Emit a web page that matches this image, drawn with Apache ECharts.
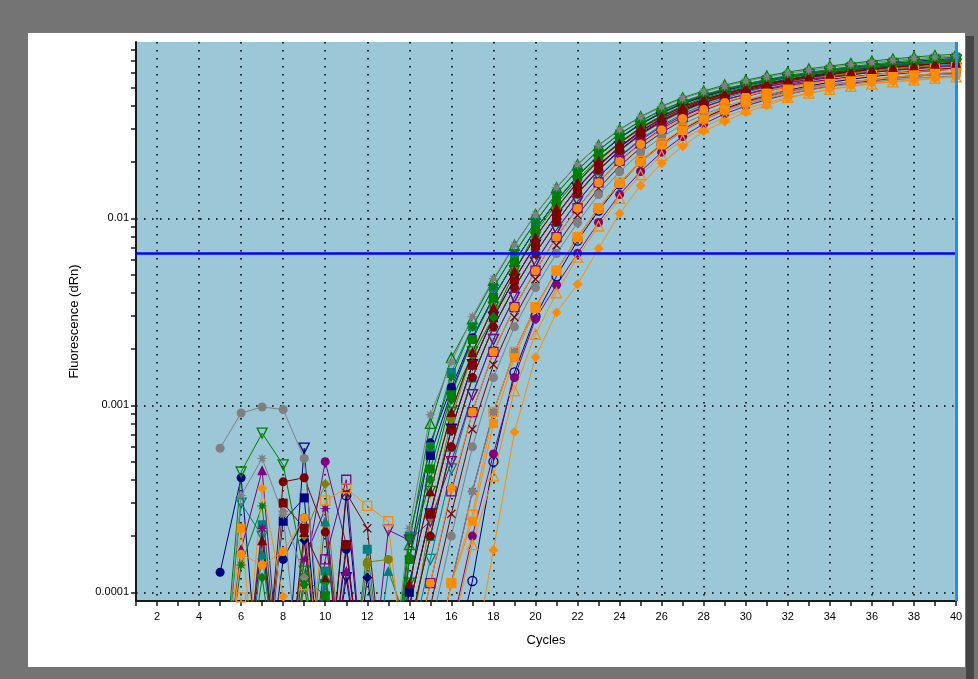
<!DOCTYPE html>
<html>
<head>
<meta charset="utf-8">
<script src="https://cdn.jsdelivr.net/npm/echarts@6/dist/echarts.min.js"></script>
<style>
  html, body { margin: 0; padding: 0; background: #ffffff; }
  #chart { width: 978px; height: 679px; }
</style>
</head>
<body>
<div id="chart"></div>
<script>
// Amplification plot: baseline-corrected fluorescence (dRn) per well, cycles 5-40.
const cycles = [5,6,7,8,9,10,11,12,13,14,15,16,17,18,19,20,21,22,23,24,25,26,27,28,29,30,31,32,33,34,35,36,37,38,39,40];
const xLabelValues = [2,4,6,8,10,12,14,16,18,20,22,24,26,28,30,32,34,36,38,40];
const xGridValues = [2,4,6,8,10,12,14,16,18,20,22,24,26,28,30,32,34,36,38];
const yLabelValues = [0.0001, 0.001, 0.01];
const yMinorTicks = [0.0002,0.0003,0.0004,0.0005,0.0006,0.0007,0.0008,0.0009,
                     0.002,0.003,0.004,0.005,0.006,0.007,0.008,0.009,
                     0.02,0.03,0.04,0.05,0.06,0.07,0.08];
const yMin = 0.0000899;
const yMax = 0.0877;
const threshold = 0.0065;
const lastCycle = 40;

// Per-well dRn readings (cycles 5..40)
const grayStar = [2e-5,3.3e-4,5.2e-4,2.6e-4,2e-5,1.5e-5,2e-5,2e-5,2.5e-5, 2.2e-4,8.9e-4,1.70e-3,2.98e-3,4.75e-3,7.2e-3,1.05e-2,1.46e-2,1.94e-2,2.45e-2,2.97e-2,3.48e-2,3.94e-2,4.37e-2,4.74e-2,5.08e-2,5.41e-2,5.69e-2,5.96e-2,6.18e-2,6.42e-2,6.63e-2,6.82e-2,6.99e-2,7.15e-2,7.28e-2,7.40e-2];
const greenTriOpen = [2e-5,2e-5,1.5e-5,2e-5,2e-5,1.2e-4,2e-5,1.5e-5,2e-5, 1.8e-4,8.0e-4,1.80e-3,2.90e-3,4.66e-3,7.18e-3,1.05e-2,1.46e-2,1.94e-2,2.46e-2,2.99e-2,3.50e-2,3.98e-2,4.42e-2,4.80e-2,5.16e-2,5.48e-2,5.78e-2,6.06e-2,6.30e-2,6.52e-2,6.74e-2,6.94e-2,7.12e-2,7.29e-2,7.43e-2,7.55e-2];
const greenTriDownOpen = [2e-5,4.4e-4,7.1e-4,4.8e-4,1.3e-4,2e-5,1e-5,1.5e-5,2e-5, 1.12e-4,3.47e-4,9.2e-4,1.93e-3,3.35e-3,5.25e-3,7.95e-3,1.14e-2,1.57e-2,2.05e-2,2.55e-2,3.07e-2,3.55e-2,4.00e-2,4.40e-2,4.74e-2,5.07e-2,5.36e-2,5.64e-2,5.87e-2,6.08e-2,6.29e-2,6.47e-2,6.64e-2,6.79e-2,6.93e-2,7.05e-2];
const navyCircle = [1.28e-4,4.1e-4,2e-5,1.5e-4,2.5e-4,2e-5,1.7e-4,2e-5,1.5e-5, 1.50e-4,6.3e-4,1.25e-3,2.30e-3,3.80e-3,5.83e-3,8.73e-3,1.24e-2,1.68e-2,2.17e-2,2.69e-2,3.20e-2,3.68e-2,4.12e-2,4.51e-2,4.86e-2,5.19e-2,5.47e-2,5.74e-2,5.97e-2,6.19e-2,6.40e-2,6.58e-2,6.75e-2,6.90e-2,7.05e-2,7.15e-2];
const navySquare = [2e-5,2e-5,3e-5,2.4e-4,3.2e-4,2e-5,3e-5,2e-5,2e-5, 1.0e-4,5.4e-4,1.18e-3,2.25e-3,3.78e-3,5.83e-3,8.72e-3,1.24e-2,1.68e-2,2.16e-2,2.68e-2,3.18e-2,3.65e-2,4.09e-2,4.47e-2,4.81e-2,5.13e-2,5.41e-2,5.67e-2,5.89e-2,6.10e-2,6.30e-2,6.47e-2,6.63e-2,6.77e-2,6.91e-2,7.01e-2];
const greenDiamond = [2e-5,2e-5,1.2e-4,2e-5,1.1e-4,2e-5,1.5e-5,2e-5,2e-5, 1.55e-4,4.0e-4,1.07e-3,1.86e-3,2.96e-3,5.14e-3,8.4e-3,1.2e-2,1.62e-2,2.07e-2,2.55e-2,3.03e-2,3.5e-2,3.93e-2,4.33e-2,4.66e-2,4.98e-2,5.27e-2,5.53e-2,5.76e-2,5.97e-2,6.17e-2,6.35e-2,6.52e-2,6.67e-2,6.81e-2,6.93e-2];
const tealSquare = [2e-5,2e-5,2.3e-4,1.5e-5,2e-5,1.3e-4,2e-5,1.7e-4,2e-5, 2.0e-4,6.0e-4,1.50e-3,2.63e-3,4.27e-3,6.5e-3,9.57e-3,1.355e-2,1.81e-2,2.31e-2,2.82e-2,3.31e-2,3.77e-2,4.19e-2,4.55e-2,4.88e-2,5.18e-2,5.45e-2,5.70e-2,5.90e-2,6.11e-2,6.30e-2,6.47e-2,6.62e-2,6.76e-2,6.87e-2,6.98e-2];
const maroonTri = [2e-5,2e-5,1.9e-4,2e-5,2.1e-4,1.2e-4,2e-5,2e-5,2e-5, 1.12e-4,3.47e-4,9.2e-4,1.93e-3,3.35e-3,5.25e-3,7.94e-3,1.135e-2,1.56e-2,2.04e-2,2.53e-2,3.04e-2,3.51e-2,3.95e-2,4.33e-2,4.66e-2,4.98e-2,5.26e-2,5.52e-2,5.74e-2,5.93e-2,6.12e-2,6.29e-2,6.45e-2,6.58e-2,6.71e-2,6.80e-2];
const maroonSquare = [2e-5,2e-5,1.5e-5,3.0e-4,2.2e-4,2e-5,1.8e-4,2e-5,2e-5, 8.4e-5,2.63e-4,7.45e-4,1.65e-3,2.96e-3,4.73e-3,7.19e-3,1.042e-2,1.455e-2,1.92e-2,2.42e-2,2.93e-2,3.42e-2,3.86e-2,4.27e-2,4.61e-2,4.93e-2,5.22e-2,5.48e-2,5.72e-2,5.91e-2,6.11e-2,6.29e-2,6.45e-2,6.59e-2,6.72e-2,6.82e-2];
const maroonCircle = [2e-5,2e-5,2e-5,3.9e-4,4.1e-4,2.1e-4,2e-5,1.5e-5,2e-5, 6.3e-5,2.0e-4,6.0e-4,1.41e-3,2.63e-3,4.27e-3,6.5e-3,9.56e-3,1.353e-2,1.81e-2,2.30e-2,2.81e-2,3.30e-2,3.76e-2,4.17e-2,4.53e-2,4.86e-2,5.15e-2,5.42e-2,5.66e-2,5.87e-2,6.07e-2,6.25e-2,6.42e-2,6.57e-2,6.70e-2,6.81e-2];
const purpleTri = [2e-5,1.7e-4,4.5e-4,2e-5,1.5e-5,2e-5,1.3e-4,2e-5,2e-5, 8.4e-5,2.63e-4,7.45e-4,1.65e-3,2.96e-3,4.73e-3,7.17e-3,1.039e-2,1.448e-2,1.90e-2,2.39e-2,2.88e-2,3.36e-2,3.78e-2,4.17e-2,4.49e-2,4.80e-2,5.07e-2,5.31e-2,5.53e-2,5.70e-2,5.88e-2,6.04e-2,6.18e-2,6.30e-2,6.41e-2,6.49e-2];
const purpleCircle = [2e-5,2e-5,2e-5,2e-5,1.2e-4,5.0e-4,1.8e-4,2e-5,2e-5, 1e-5,2e-5,6.3e-5,2.0e-4,5.5e-4,1.41e-3,2.9e-3,4.4e-3,6.5e-3,9.51e-3,1.34e-2,1.78e-2,2.26e-2,2.74e-2,3.20e-2,3.62e-2,3.99e-2,4.31e-2,4.61e-2,4.86e-2,5.09e-2,5.29e-2,5.44e-2,5.60e-2,5.74e-2,5.87e-2,5.97e-2];
const oliveDiamond = [2e-5,2e-5,2e-5,1.5e-5,2.0e-4,3.8e-4,2e-5,1.4e-4,2e-5, 6.3e-5,2.0e-4,6.0e-4,1.41e-3,2.63e-3,4.27e-3,6.5e-3,9.55e-3,1.35e-2,1.80e-2,2.29e-2,2.79e-2,3.27e-2,3.72e-2,4.12e-2,4.47e-2,4.79e-2,5.07e-2,5.33e-2,5.56e-2,5.75e-2,5.94e-2,6.11e-2,6.27e-2,6.40e-2,6.52e-2,6.62e-2];
const oliveCircle = [2e-5,2e-5,2e-5,2e-5,2e-5,1.5e-5,2e-5,1.45e-4,1.5e-4, 5e-5,2.5e-4,8.5e-4,1.90e-3,3.35e-3,5.25e-3,7.94e-3,1.134e-2,1.553e-2,2.02e-2,2.51e-2,3.00e-2,3.47e-2,3.89e-2,4.26e-2,4.58e-2,4.89e-2,5.15e-2,5.40e-2,5.60e-2,5.79e-2,5.96e-2,6.12e-2,6.26e-2,6.38e-2,6.49e-2,6.58e-2];
const orangeDiamond = [2e-5,2e-5,3.6e-4,9.5e-5,2e-5,1.5e-5,2e-5,2e-5,2e-5, 1e-5,1e-5,2e-5,4e-5,1.68e-4,7.2e-4,1.81e-3,3.14e-3,4.44e-3,6.9e-3,1.06e-2,1.50e-2,1.97e-2,2.43e-2,2.92e-2,3.30e-2,3.69e-2,4.02e-2,4.39e-2,4.66e-2,4.90e-2,5.10e-2,5.27e-2,5.37e-2,5.46e-2,5.60e-2,5.68e-2];
const orangeCircle = [2e-5,1.6e-4,1.4e-4,1.65e-4,2.5e-4,2e-5,2e-5,1.5e-5,2e-5, 3.5e-5,1.12e-4,3.6e-4,9.2e-4,1.93e-3,3.35e-3,5.25e-3,7.92e-3,1.13e-2,1.55e-2,2.01e-2,2.49e-2,2.97e-2,3.42e-2,3.82e-2,4.18e-2,4.51e-2,4.80e-2,5.05e-2,5.27e-2,5.47e-2,5.65e-2,5.81e-2,5.95e-2,6.08e-2,6.18e-2,6.28e-2];
const orangeSquare = [2e-5,2.2e-4,1.5e-5,2e-5,2e-5,2e-5,1.5e-5,2e-5,2e-5, 1e-5,3.5e-5,1.12e-4,2.4e-4,8.0e-4,1.80e-3,3.30e-3,5.24e-3,7.9e-3,1.127e-2,1.54e-2,2.00e-2,2.47e-2,2.95e-2,3.39e-2,3.79e-2,4.14e-2,4.43e-2,4.71e-2,4.95e-2,5.17e-2,5.35e-2,5.52e-2,5.67e-2,5.81e-2,5.94e-2,6.04e-2];
const orangeSquareOpen = [2e-5,9.4e-5,2e-5,1.5e-5,2e-5,3.1e-4,3.6e-4,2.9e-4,2.4e-4, 2e-5,3.5e-5,1.12e-4,2.6e-4,9.2e-4,1.93e-3,3.35e-3,5.25e-3,7.94e-3,1.135e-2,1.556e-2,2.03e-2,2.52e-2,3.02e-2,3.49e-2,3.92e-2,4.30e-2,4.62e-2,4.93e-2,5.20e-2,5.45e-2,5.66e-2,5.85e-2,6.03e-2,6.19e-2,6.34e-2,6.46e-2];
const orangeTriOpen = [2e-5,2e-5,2e-5,2e-5,1.1e-4,2e-5,2e-5,2e-5,2e-5, 1e-5,2e-5,6e-5,1.8e-4,4.2e-4,1.2e-3,2.4e-3,4.0e-3,6.2e-3,9.1e-3,1.28e-2,1.71e-2,2.17e-2,2.63e-2,3.07e-2,3.48e-2,3.84e-2,4.15e-2,4.43e-2,4.67e-2,4.89e-2,5.08e-2,5.23e-2,5.37e-2,5.50e-2,5.62e-2,5.71e-2];
const tealTriDownOpen = [2e-5,3.0e-4,2.0e-4,1.5e-5,2e-5,1.1e-4,2e-5,2e-5,2e-5, 4.73e-5,1.50e-4,4.57e-4,1.14e-3,2.25e-3,3.78e-3,5.83e-3,8.71e-3,1.237e-2,1.67e-2,2.15e-2,2.66e-2,3.15e-2,3.62e-2,4.04e-2,4.40e-2,4.73e-2,5.03e-2,5.30e-2,5.54e-2,5.75e-2,5.94e-2,6.12e-2,6.28e-2,6.43e-2,6.55e-2,6.68e-2];
const navyTriDownOpen = [2e-5,2e-5,1.5e-5,2e-5,5.9e-4,2e-5,1.2e-4,2e-5,2e-5, 8.4e-5,2.63e-4,7.45e-4,1.65e-3,2.96e-3,4.73e-3,7.19e-3,1.043e-2,1.457e-2,1.92e-2,2.42e-2,2.92e-2,3.43e-2,3.87e-2,4.29e-2,4.64e-2,4.97e-2,5.27e-2,5.54e-2,5.79e-2,5.99e-2,6.20e-2,6.39e-2,6.56e-2,6.71e-2,6.85e-2,6.96e-2];
const navyDiamond = [2e-5,2e-5,2e-5,2e-5,1.9e-4,2e-5,1.5e-5,1.2e-4,2e-5, 6.3e-5,2.0e-4,6.0e-4,1.41e-3,2.63e-3,4.27e-3,6.5e-3,9.58e-3,1.358e-2,1.82e-2,2.32e-2,2.83e-2,3.33e-2,3.80e-2,4.22e-2,4.59e-2,4.93e-2,5.23e-2,5.51e-2,5.77e-2,5.99e-2,6.20e-2,6.39e-2,6.57e-2,6.73e-2,6.87e-2,7.00e-2];
const navyCircleOpen = [2e-5,2e-5,2e-5,2e-5,2e-5,2e-5,3.3e-4,2e-5,2e-5, 1e-5,2e-5,4e-5,1.15e-4,5.0e-4,1.5e-3,3.0e-3,4.9e-3,7.6e-3,1.10e-2,1.52e-2,2.00e-2,2.49e-2,2.98e-2,3.44e-2,3.86e-2,4.23e-2,4.54e-2,4.84e-2,5.10e-2,5.34e-2,5.54e-2,5.72e-2,5.89e-2,6.04e-2,6.18e-2,6.29e-2];
const purpleSquareOpen = [2e-5,2e-5,2e-5,1.5e-5,2e-5,1.5e-4,4.0e-4,2e-5,2e-5, 3.5e-5,1.12e-4,3.47e-4,9.2e-4,1.93e-3,3.35e-3,5.25e-3,7.94e-3,1.135e-2,1.556e-2,2.03e-2,2.52e-2,3.02e-2,3.49e-2,3.92e-2,4.30e-2,4.62e-2,4.93e-2,5.20e-2,5.45e-2,5.66e-2,5.85e-2,6.03e-2,6.19e-2,6.34e-2,6.46e-2,6.58e-2];
const maroonCross = [2e-5,2e-5,2e-5,2e-5,2e-5,2e-5,3.4e-4,2.2e-4,2e-5, 2.66e-5,8.4e-5,2.63e-4,7.45e-4,1.65e-3,2.96e-3,4.73e-3,7.17e-3,1.038e-2,1.447e-2,1.90e-2,2.39e-2,2.88e-2,3.35e-2,3.77e-2,4.16e-2,4.48e-2,4.78e-2,5.05e-2,5.29e-2,5.51e-2,5.68e-2,5.86e-2,6.02e-2,6.16e-2,6.28e-2,6.39e-2];
const purpleTriDownOpen = [2e-5,2e-5,2e-5,2e-5,2e-5,2e-5,2e-5,2e-5,2.15e-4, 1.9e-4,2.4e-4,5.0e-4,1.14e-3,2.25e-3,3.78e-3,5.82e-3,8.68e-3,1.23e-2,1.66e-2,2.13e-2,2.62e-2,3.10e-2,3.55e-2,3.95e-2,4.30e-2,4.60e-2,4.88e-2,5.13e-2,5.35e-2,5.53e-2,5.71e-2,5.87e-2,6.01e-2,6.14e-2,6.24e-2,6.34e-2];
const grayCircle = [5.9e-4,9.1e-4,9.8e-4,9.5e-4,5.2e-4,3e-5,2e-5,2e-5,2e-5, 2e-5,6.3e-5,2.0e-4,6.0e-4,1.41e-3,2.63e-3,4.27e-3,6.48e-3,9.5e-3,1.34e-2,1.775e-2,2.25e-2,2.72e-2,3.18e-2,3.60e-2,3.96e-2,4.28e-2,4.56e-2,4.81e-2,5.03e-2,5.22e-2,5.38e-2,5.52e-2,5.65e-2,5.76e-2,5.85e-2,5.93e-2];
const greenSquare = [2e-5,2e-5,2e-5,2e-5,1.2e-4,9.6e-5,2e-5,2e-5,2e-5, 1.50e-4,4.57e-4,1.14e-3,2.25e-3,3.78e-3,5.83e-3,8.72e-3,1.245e-2,1.69e-2,2.18e-2,2.70e-2,3.22e-2,3.70e-2,4.15e-2,4.55e-2,4.90e-2,5.23e-2,5.52e-2,5.80e-2,6.04e-2,6.26e-2,6.48e-2,6.67e-2,6.85e-2,7.01e-2,7.17e-2,7.27e-2];
const greenStar = [2e-5,1.4e-4,2.9e-4,2e-5,2e-5,2e-5,2e-5,2e-5,2e-5, 2.0e-4,6.0e-4,1.41e-3,2.63e-3,4.27e-3,6.5e-3,9.58e-3,1.358e-2,1.815e-2,2.32e-2,2.83e-2,3.33e-2,3.80e-2,4.21e-2,4.59e-2,4.93e-2,5.23e-2,5.51e-2,5.76e-2,5.98e-2,6.19e-2,6.39e-2,6.57e-2,6.73e-2,6.87e-2,7.00e-2,7.11e-2];
const purpleStar = [2e-5,2e-5,2.2e-4,2e-5,1.5e-4,2.8e-4,2e-5,2e-5,2e-5, 1e-5,3.5e-5,1.12e-4,3.47e-4,9.2e-4,1.93e-3,3.35e-3,5.25e-3,7.93e-3,1.132e-2,1.55e-2,2.01e-2,2.49e-2,2.97e-2,3.42e-2,3.82e-2,4.17e-2,4.46e-2,4.74e-2,4.98e-2,5.19e-2,5.37e-2,5.53e-2,5.68e-2,5.81e-2,5.93e-2,6.02e-2];
const tealTri = [2e-5,2e-5,1.6e-4,2e-5,2e-5,2.4e-4,2e-5,2e-5,1.3e-4, 6.3e-5,2.0e-4,6.0e-4,1.41e-3,2.63e-3,4.27e-3,6.5e-3,9.56e-3,1.352e-2,1.805e-2,2.30e-2,2.80e-2,3.29e-2,3.75e-2,4.15e-2,4.51e-2,4.84e-2,5.13e-2,5.39e-2,5.63e-2,5.83e-2,6.03e-2,6.20e-2,6.37e-2,6.51e-2,6.64e-2,6.75e-2];
const grayDiamond = [2e-5,2e-5,2e-5,2.7e-4,1.2e-4,2e-5,2e-5,2e-5,2e-5, 1e-5,3.5e-5,1.12e-4,3.47e-4,9.2e-4,1.93e-3,3.35e-3,5.24e-3,7.9e-3,1.126e-2,1.54e-2,1.99e-2,2.45e-2,2.92e-2,3.35e-2,3.75e-2,4.09e-2,4.37e-2,4.63e-2,4.86e-2,5.06e-2,5.22e-2,5.36e-2,5.49e-2,5.61e-2,5.71e-2,5.78e-2];

const NAVY = '#000080', GREEN = '#008000', MAROON = '#800000', PURPLE = '#800080',
      OLIVE = '#808000', TEAL = '#008080', GRAY = '#808080', ORANGE = '#ff8c00';

// marker shapes
function starPath(points, inner) {
  let d = '';
  for (let i = 0; i < points * 2; i++) {
    const r = i % 2 ? inner : 1;
    const a = Math.PI * i / points - Math.PI / 2;
    d += (i ? 'L' : 'M') + (50 + 50 * r * Math.cos(a)).toFixed(1) + ',' + (50 + 50 * r * Math.sin(a)).toFixed(1);
  }
  return 'path://' + d + 'Z';
}
const MARKS = {
  circle: ['circle', 9],
  square: ['rect', 9],
  diamond: ['diamond', 10],
  triangle: ['triangle', 10],
  star: [starPath(8, 0.42), 11],
  cross: ['path://M0,1L1,0L5,4L9,0L10,1L6,5L10,9L9,10L5,6L1,10L0,9L4,5Z', 9]
};

const wells = [
  { v: navyDiamond, c: NAVY, m: 'diamond' },
  { v: navySquare, c: NAVY, m: 'square' },
  { v: navyCircle, c: NAVY, m: 'circle' },
  { v: navyTriDownOpen, c: NAVY, m: 'triangle', open: true, down: true },
  { v: navyCircleOpen, c: NAVY, m: 'circle', open: true },
  { v: tealTri, c: TEAL, m: 'triangle' },
  { v: tealSquare, c: TEAL, m: 'square' },
  { v: tealTriDownOpen, c: TEAL, m: 'triangle', open: true, down: true },
  { v: oliveCircle, c: OLIVE, m: 'circle' },
  { v: oliveDiamond, c: OLIVE, m: 'diamond' },
  { v: purpleTri, c: PURPLE, m: 'triangle' },
  { v: purpleSquareOpen, c: PURPLE, m: 'square', open: true },
  { v: purpleTriDownOpen, c: PURPLE, m: 'triangle', open: true, down: true },
  { v: purpleStar, c: PURPLE, m: 'star' },
  { v: purpleCircle, c: PURPLE, m: 'circle' },
  { v: greenSquare, c: GREEN, m: 'square' },
  { v: greenStar, c: GREEN, m: 'star' },
  { v: greenTriDownOpen, c: GREEN, m: 'triangle', open: true, down: true },
  { v: maroonCross, c: MAROON, m: 'cross' },
  { v: maroonSquare, c: MAROON, m: 'square' },
  { v: maroonCircle, c: MAROON, m: 'circle' },
  { v: grayCircle, c: GRAY, m: 'circle' },
  { v: grayDiamond, c: GRAY, m: 'diamond' },
  { v: orangeSquareOpen, c: ORANGE, m: 'square', open: true },
  { v: orangeTriOpen, c: ORANGE, m: 'triangle', open: true },
  { v: orangeSquare, c: ORANGE, m: 'square' },
  { v: orangeCircle, c: ORANGE, m: 'circle' },
  { v: orangeDiamond, c: ORANGE, m: 'diamond' },
  { v: greenDiamond, c: GREEN, m: 'diamond' },
  { v: maroonTri, c: MAROON, m: 'triangle' },
  { v: greenTriOpen, c: GREEN, m: 'triangle', open: true },
  { v: grayStar, c: GRAY, m: 'star' }
];

const FONT = 'Liberation Sans, Arial, sans-serif';
const dots = { color: '#000000', width: 1.6, type: [1.6, 6.4] };

const series = wells.map(w => ({
  type: 'line',
  data: cycles.map((c, i) => [c, w.v[i]]),
  symbol: MARKS[w.m][0],
  symbolSize: MARKS[w.m][1],
  symbolRotate: w.down ? 180 : 0,
  showAllSymbol: true,
  clip: true,
  silent: true,
  lineStyle: { color: w.c, width: 1 },
  itemStyle: w.open
    ? { color: 'rgba(0,0,0,0)', borderColor: w.c, borderWidth: 1.3 }
    : { color: w.c },
  emphasis: { disabled: true }
}));

// threshold and end-of-run markers
series.push({
  type: 'line',
  data: [],
  silent: true,
  z: 10,
  markLine: {
    symbol: 'none',
    silent: true,
    animation: false,
    precision: 8,
    label: { show: false },
    data: [
      { yAxis: threshold, lineStyle: { color: '#0000ff', width: 2.5, type: 'solid' } },
      { xAxis: lastCycle, lineStyle: { color: '#1e8cff', width: 3, type: 'solid' } }
    ]
  }
});

const chart = echarts.init(document.getElementById('chart'));
chart.setOption({
  animation: false,
  backgroundColor: '#ffffff',
  graphic: [
    { type: 'rect', silent: true, shape: { x: 0, y: 0, width: 978, height: 33 }, style: { fill: '#747474' } },
    { type: 'rect', silent: true, shape: { x: 0, y: 0, width: 28, height: 679 }, style: { fill: '#747474' } },
    { type: 'rect', silent: true, shape: { x: 0, y: 667, width: 978, height: 12 }, style: { fill: '#747474' } },
    { type: 'rect', silent: true, shape: { x: 965, y: 0, width: 13, height: 679 }, style: { fill: '#747474' } },
    { type: 'rect', silent: true, shape: { x: 966, y: 36, width: 8, height: 643 }, style: { fill: '#454545' } }
  ],
  grid: {
    left: 136, right: 22, top: 42, bottom: 78,
    show: true, backgroundColor: '#9bc7d6', borderWidth: 0
  },
  xAxis: [
    {
      type: 'value', min: 1, max: 40, interval: 1, position: 'bottom',
      name: 'Cycles', nameLocation: 'middle', nameGap: 33,
      nameTextStyle: { color: '#000', fontSize: 13, fontFamily: FONT },
      axisLine: { show: true, onZero: false, lineStyle: { color: '#1a1a1a', width: 2 } },
      axisTick: { show: true, length: 5, lineStyle: { color: '#1a1a1a', width: 1.5 } },
      axisLabel: { customValues: xLabelValues, color: '#000', fontSize: 11, margin: 10, fontFamily: FONT },
      splitLine: { show: false }
    },
    {
      type: 'value', min: 1, max: 40, position: 'bottom',
      axisLine: { show: false },
      axisTick: { show: false, customValues: xGridValues },
      axisLabel: { show: false },
      splitLine: { show: true, lineStyle: dots }
    }
  ],
  yAxis: [
    {
      type: 'log', logBase: 10, min: yMin, max: yMax, position: 'left',
      name: 'Fluorescence (dRn)', nameLocation: 'middle', nameGap: 55, nameRotate: 90,
      nameTextStyle: { color: '#000', fontSize: 13, fontFamily: FONT },
      axisLine: { show: true, onZero: false, lineStyle: { color: '#1a1a1a', width: 2 } },
      axisTick: { show: true, length: 5, customValues: yLabelValues, lineStyle: { color: '#1a1a1a', width: 1.5 } },
      axisLabel: { customValues: yLabelValues, formatter: v => String(+v.toPrecision(3)), color: '#000', fontSize: 11, margin: 7, fontFamily: FONT },
      splitLine: { show: true, lineStyle: dots }
    },
    {
      type: 'log', logBase: 10, min: yMin, max: yMax, position: 'left',
      axisLine: { show: false },
      axisTick: { show: true, length: 5, customValues: yMinorTicks, lineStyle: { color: '#1a1a1a', width: 1.5 } },
      axisLabel: { show: false },
      splitLine: { show: false }
    }
  ],
  series: series
});
</script>
</body>
</html>
